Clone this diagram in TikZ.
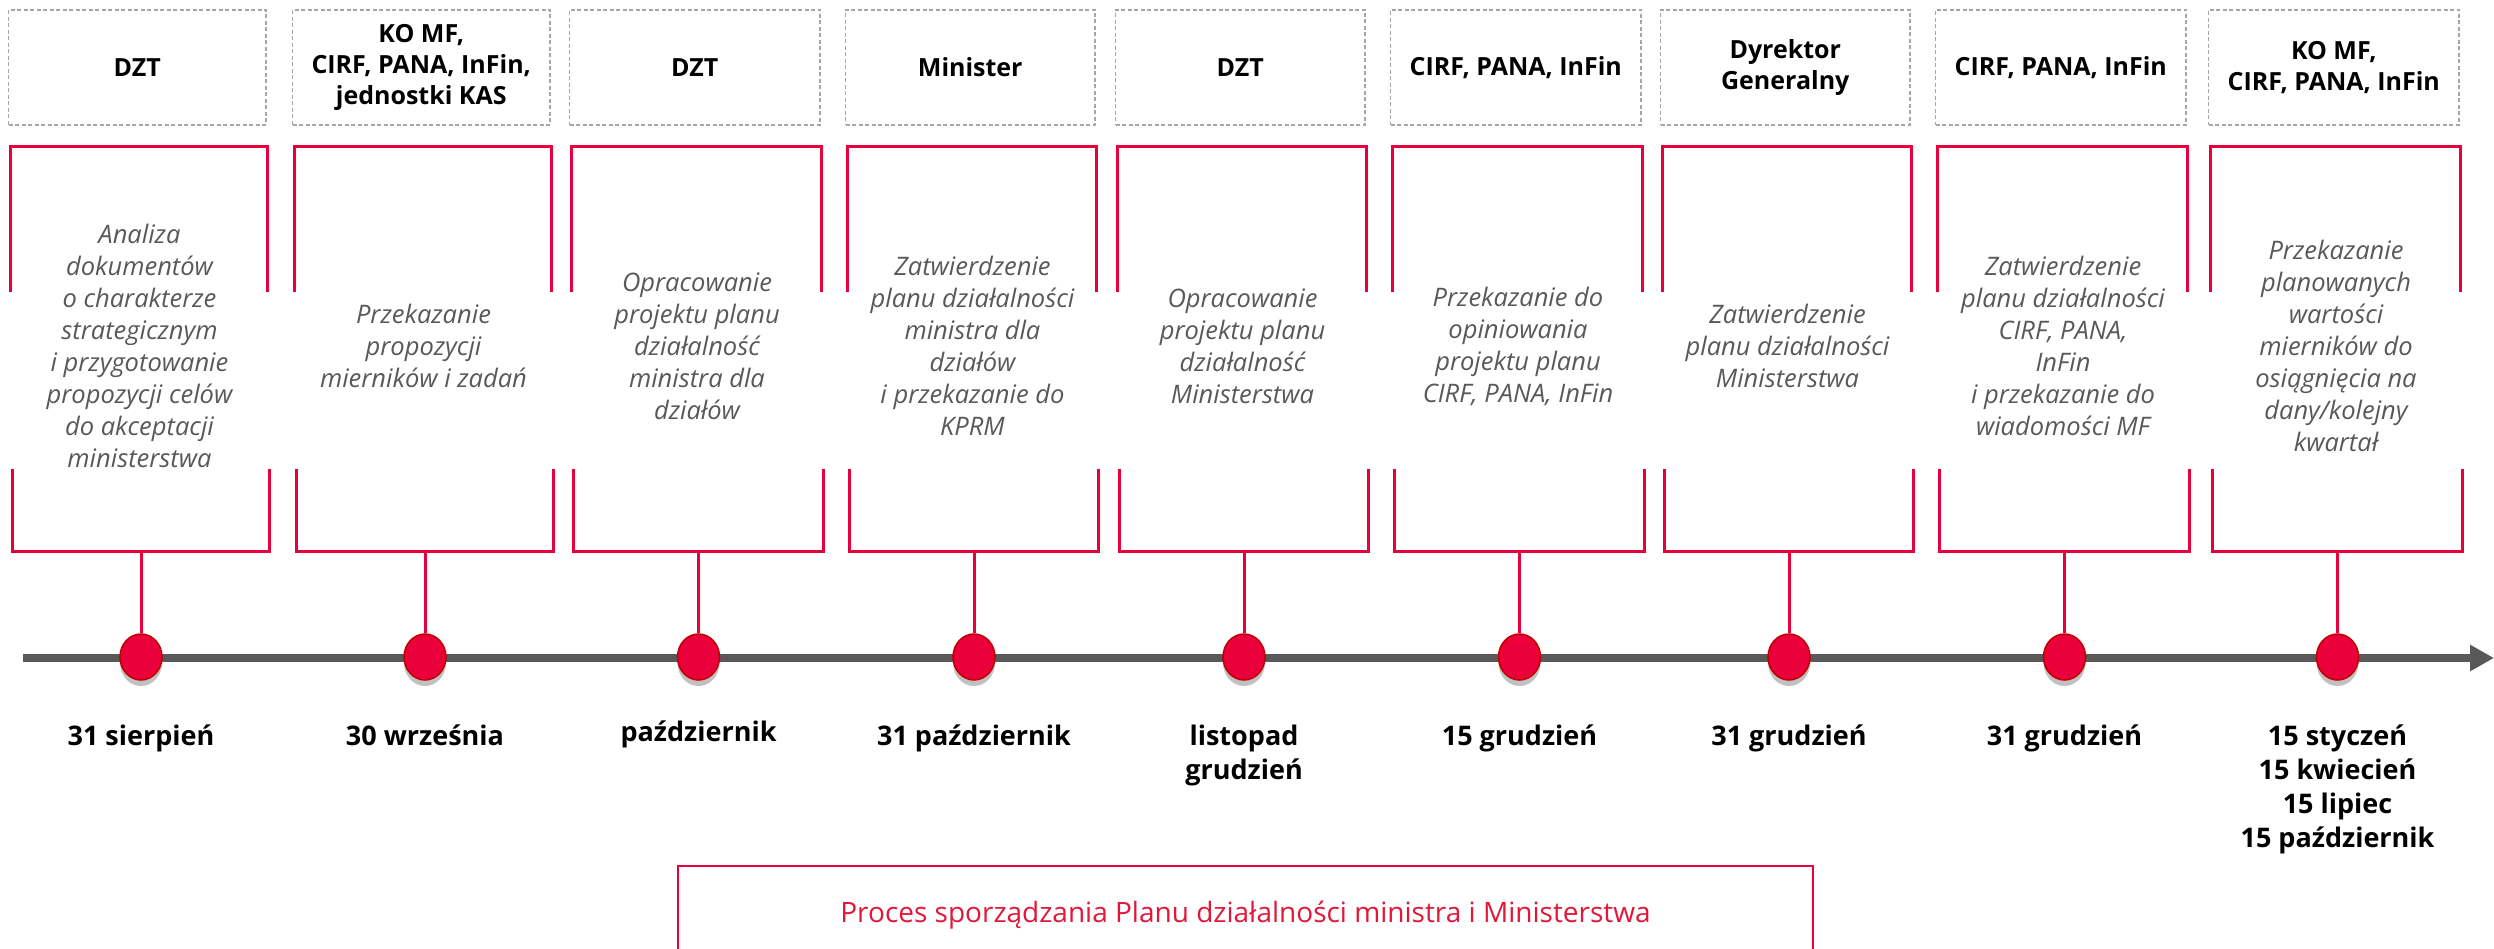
\documentclass[tikz,border=0pt]{standalone}
\usepackage{fontspec}
\setmainfont{Open Sans}
\usetikzlibrary{arrows.meta,shadows,shapes.geometric}
\definecolor{lred}{RGB}{232,0,60}
\definecolor{dred}{RGB}{192,0,0}
\definecolor{dotred}{RGB}{234,0,58}
\definecolor{axgray}{RGB}{89,89,89}
\definecolor{txtgray}{RGB}{89,89,89}
\definecolor{dashgray}{RGB}{166,166,166}
\definecolor{procred}{RGB}{226,24,58}
\begin{document}
\begin{tikzpicture}[x=1pt,y=-1pt,
  hdr/.style={draw=dashgray, dash pattern=on 4pt off 2.5pt, line width=1.3pt,
    font=\fontsize{25}{31}\selectfont\bfseries, align=center, inner sep=0pt,
    minimum height=115pt},
  brk/.style={draw=lred, line width=3pt, line join=miter},
  desc/.style={font=\fontsize{25.5}{32}\selectfont\itshape, text=txtgray, align=center, inner sep=0pt},
  stem/.style={draw=lred, line width=3pt},
  dot/.style={ellipse, fill=dotred, draw=dred, line width=1.5pt, minimum width=42pt,
    minimum height=46pt, inner sep=0pt,
    drop shadow={shadow xshift=0pt, shadow yshift=-6pt, opacity=0.3, fill=black!80}},
  datelbl/.style={font=\fontsize{27}{34}\selectfont\bfseries, align=center, inner sep=0pt, anchor=north},
  axisline/.style={draw=axgray, line width=8pt, -{Triangle[length=24pt,width=25pt]}},
  proc/.style={draw=lred, line width=2pt, fill=white, minimum width=1135pt, minimum height=94pt,
    text=procred, font=\fontsize{28}{32}\selectfont, inner sep=0pt,
    text height=18pt, text depth=0pt,
    drop shadow={shadow xshift=0pt, shadow yshift=-4pt, opacity=0.2, fill=black}}
]
\useasboundingbox (0,0) rectangle (2494,949);
\fill[white] (0,0) rectangle (2494,949);

% header boxes
\node[hdr, minimum width=257.5pt] (h1) at (137.25,67.5) {DZT};
\node[hdr, minimum width=257.5pt] (h2) at (421.25,67.5) {KO MF,\\CIRF, PANA, InFin,\\jednostki KAS};
\node[hdr, minimum width=250.5pt] (h3) at (694.75,67.5) {DZT};
\node[hdr, minimum width=249.5pt] (h4) at (970.25,67.5) {Minister};
\node[hdr, minimum width=249.5pt] (h5) at (1240.25,67.5) {DZT};
\node[hdr, minimum width=250.5pt] (h6) at (1515.75,67.5) {CIRF, PANA, InFin};
\node[hdr, minimum width=249.5pt] (h7) at (1785.25,67.5) {Dyrektor\\Generalny};
\node[hdr, minimum width=250.5pt] (h8) at (2060.75,67.5) {CIRF, PANA, InFin};
\node[hdr, minimum width=250.5pt] (h9) at (2333.75,67.5) {KO MF,\\CIRF, PANA, InFin};

% red brackets (top and bottom parts)
\draw[brk] (10,292) |- (267,147) -- (267,292);
\draw[brk] (12.5,469) |- (269.5,551) -- (269.5,469);
\draw[brk] (294,292) |- (551,147) -- (551,292);
\draw[brk] (296.5,469) |- (553.5,551) -- (553.5,469);
\draw[brk] (571,292) |- (821,147) -- (821,292);
\draw[brk] (573.5,469) |- (823.5,551) -- (823.5,469);
\draw[brk] (847,292) |- (1096,147) -- (1096,292);
\draw[brk] (849.5,469) |- (1098.5,551) -- (1098.5,469);
\draw[brk] (1117,292) |- (1366,147) -- (1366,292);
\draw[brk] (1119.5,469) |- (1368.5,551) -- (1368.5,469);
\draw[brk] (1392,292) |- (1642,147) -- (1642,292);
\draw[brk] (1394.5,469) |- (1644.5,551) -- (1644.5,469);
\draw[brk] (1662,292) |- (1911,147) -- (1911,292);
\draw[brk] (1664.5,469) |- (1913.5,551) -- (1913.5,469);
\draw[brk] (1937,292) |- (2187,147) -- (2187,292);
\draw[brk] (1939.5,469) |- (2189.5,551) -- (2189.5,469);
\draw[brk] (2210,292) |- (2460,147) -- (2460,292);
\draw[brk] (2212.5,469) |- (2462.5,551) -- (2462.5,469);

% descriptions
\node[desc] (t1) at (139.5,346) {Analiza\\dokumentów\\o charakterze\\strategicznym\\i przygotowanie\\propozycji celów\\do akceptacji\\ministerstwa};
\node[desc] (t2) at (423.5,346) {Przekazanie\\propozycji\\mierników i zadań};
\node[desc] (t3) at (697,346) {Opracowanie\\projektu planu\\działalność\\ministra dla\\działów};
\node[desc] (t4) at (972.5,346) {Zatwierdzenie\\planu działalności\\ministra dla\\działów\\i przekazanie do\\KPRM};
\node[desc] (t5) at (1242.5,346) {Opracowanie\\projektu planu\\działalność\\Ministerstwa};
\node[desc] (t6) at (1518,346) {Przekazanie do\\opiniowania\\projektu planu\\CIRF, PANA, InFin};
\node[desc] (t7) at (1787.5,346) {Zatwierdzenie\\planu działalności\\Ministerstwa};
\node[desc] (t8) at (2063,346) {Zatwierdzenie\\planu działalności\\CIRF, PANA,\\InFin\\i przekazanie do\\wiadomości MF};
\node[desc] (t9) at (2336,346) {Przekazanie\\planowanych\\wartości\\mierników do\\osiągnięcia na\\dany/kolejny\\kwartał};

% axis
\coordinate (a0) at (23,658);
\coordinate (a1) at (2494,658);
\draw[axisline] (a0) -- (a1);

% stems bottoms
\coordinate (b1) at (141,551);
\coordinate (b2) at (425,551);
\coordinate (b3) at (698.5,551);
\coordinate (b4) at (974,551);
\coordinate (b5) at (1244,551);
\coordinate (b6) at (1519.5,551);
\coordinate (b7) at (1789,551);
\coordinate (b8) at (2064.5,551);
\coordinate (b9) at (2337.5,551);

% dots
\node[dot] (d1) at (141,657) {};
\node[dot] (d2) at (425,657) {};
\node[dot] (d3) at (698.5,657) {};
\node[dot] (d4) at (974,657) {};
\node[dot] (d5) at (1244,657) {};
\node[dot] (d6) at (1519.5,657) {};
\node[dot] (d7) at (1789,657) {};
\node[dot] (d8) at (2064.5,657) {};
\node[dot] (d9) at (2337.5,657) {};

\foreach \i in {1,...,9} {\draw[stem] (b\i) -- (d\i);}

% dates
\node[datelbl] (dt1) at (141,721) {\strut 31 sierpień};
\node[datelbl] (dt2) at (425,721) {\strut 30 września};
\node[datelbl] (dt3) at (698.5,717) {\strut październik};
\node[datelbl] (dt4) at (974,721) {\strut 31 październik};
\node[datelbl] (dt5) at (1244,721) {\strut listopad\\grudzień};
\node[datelbl] (dt6) at (1519.5,721) {\strut 15 grudzień};
\node[datelbl] (dt7) at (1789,721) {\strut 31 grudzień};
\node[datelbl] (dt8) at (2064.5,721) {\strut 31 grudzień};
\node[datelbl] (dt9) at (2337.5,721) {\strut 15 styczeń\\15 kwiecień\\15 lipiec\\15 październik};

% process box
\node[proc] (p) at (1245.5,913) {Proces sporządzania Planu działalności ministra i Ministerstwa};
\end{tikzpicture}
\end{document}
